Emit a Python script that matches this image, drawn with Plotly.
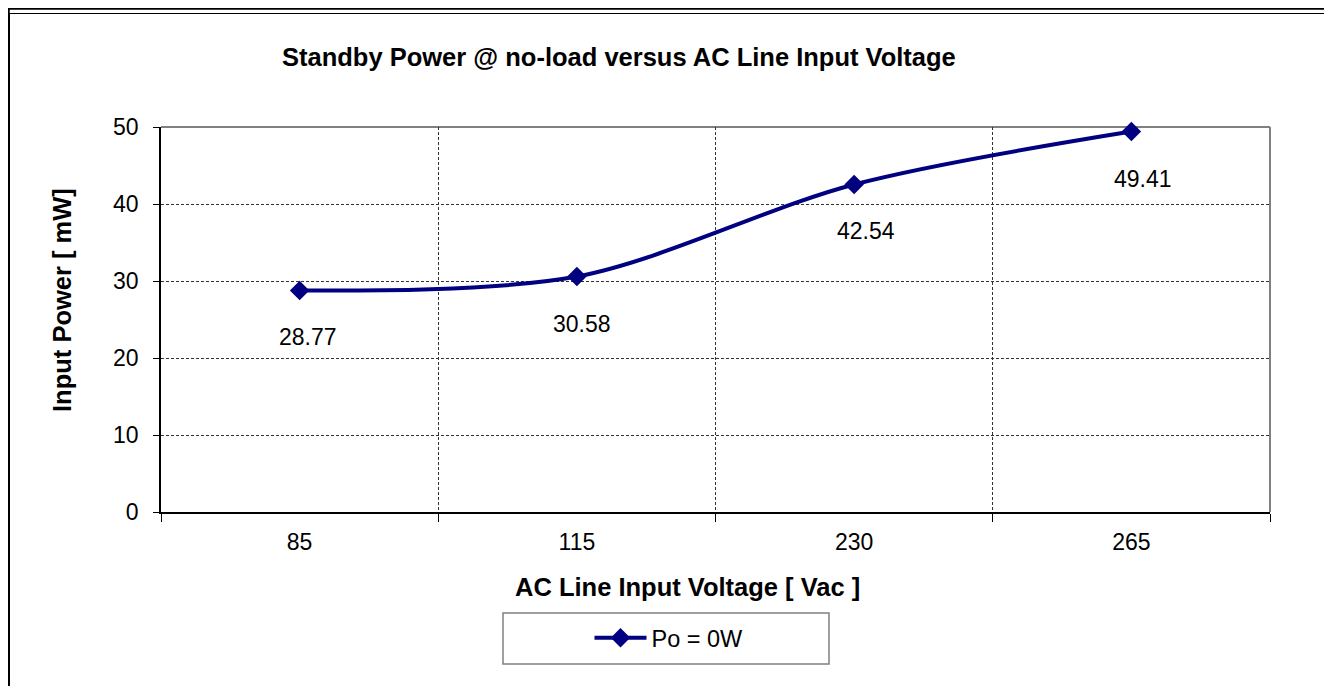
import plotly.graph_objects as go

# ---- data ----
voltages = ["85", "115", "230", "265"]
power_mw = [28.77, 30.58, 42.54, 49.41]
series_name = "Po = 0W"
title_text = "Standby Power @ no-load versus AC Line Input Voltage"
x_title = "AC Line Input Voltage [ Vac ]"
y_title = "Input Power [ mW]"
y_ticks = [0, 10, 20, 30, 40, 50]

# ---- layout geometry (screen pixels; page has an 8px body margin) ----
OFF = 8
W, H = 1332, 686
PL, PR, PT, PB = 161 - OFF, 1270 - OFF, 127 - OFF, 512 - OFF
label_dx = [8, 5, 12, 12]

def px(x):
    return (x - OFF - PL) / (PR - PL)

def py(y):
    return (PB - (y - OFF)) / (PB - PT)

FONT = "Liberation Sans, Arial, sans-serif"
NAVY = "#000080"

fig = go.Figure()
fig.add_trace(go.Scatter(
    x=voltages, y=power_mw, name=series_name, mode="lines+markers",
    line=dict(color=NAVY, width=4, shape="spline", smoothing=0.9),
    marker=dict(symbol="diamond", size=15, color=NAVY),
    cliponaxis=False,
    showlegend=True,
))

for i, (p, dx) in enumerate(zip(power_mw, label_dx)):
    fig.add_annotation(x=i, y=p, xref="x", yref="y", text=f"{p:.2f}",
                       showarrow=False, xshift=dx, yshift=-47,
                       font=dict(family=FONT, size=23, color="#000"))

fig.update_layout(
    width=W, height=H,
    margin=dict(l=PL, r=W - PR, t=PT, b=H - PB, pad=0),
    paper_bgcolor="white", plot_bgcolor="white",
    font=dict(family=FONT, color="#000"),
    showlegend=True,
    legend=dict(x=px(669), y=py(638), xanchor="center", yanchor="middle",
                borderwidth=0, bgcolor="rgba(0,0,0,0)",
                font=dict(family=FONT, size=23.5, color="#000"),
                itemwidth=52),
)

fig.update_xaxes(
    type="category", range=[-0.5, 3.5], tickson="boundaries",
    ticks="outside", ticklen=8, tickcolor="#000", tickwidth=1,
    showline=True, linecolor="#000", linewidth=2,
    showgrid=True, gridcolor="#333", gridwidth=1, griddash="3px,2px",
    tickfont=dict(family=FONT, size=23, color="#000"),
    ticklabelstandoff=8,
    zeroline=False,
)
fig.update_yaxes(
    range=[0, 50], tickvals=y_ticks,
    ticks="outside", ticklen=6, tickcolor="#000", tickwidth=1,
    showline=True, linecolor="#000", linewidth=1.5,
    showgrid=True, gridcolor="#333", gridwidth=1, griddash="3px,2px",
    tickfont=dict(family=FONT, size=23, color="#000"),
    ticklabelstandoff=10,
    zeroline=False,
)

# title and axis titles as annotations
fig.add_annotation(xref="paper", yref="paper", x=px(619), y=py(57),
                   text=f"<b>{title_text}</b>", showarrow=False,
                   xanchor="center", yanchor="middle",
                   font=dict(family=FONT, size=25.5, color="#000"))
fig.add_annotation(xref="paper", yref="paper", x=px(687), y=py(587),
                   text=f"<b>{x_title}</b>", showarrow=False,
                   xanchor="center", yanchor="middle",
                   font=dict(family=FONT, size=25.5, color="#000"))
fig.add_annotation(xref="paper", yref="paper", x=px(62), y=py(300),
                   text=f"<b>{y_title}</b>", showarrow=False, textangle=-90,
                   xanchor="center", yanchor="middle",
                   font=dict(family=FONT, size=25.5, color="#000"))

shapes = [
    # plot area top/right border in gray (between grid and traces)
    dict(type="line", xref="paper", yref="paper", x0=0, x1=1, y0=1, y1=1,
         layer="between", line=dict(color="#808080", width=2)),
    dict(type="line", xref="paper", yref="paper", x0=1, x1=1, y0=0, y1=1,
         layer="between", line=dict(color="#808080", width=2)),
    # legend box
    dict(type="rect", xref="paper", yref="paper", x0=px(503), x1=px(829),
         y0=py(664), y1=py(613), line=dict(color="#808080", width=1.5)),
    # outer double frame
    dict(type="rect", xref="paper", yref="paper", x0=px(8.5), x1=px(1328),
         y0=py(720), y1=py(8.5), line=dict(color="#000", width=2.5)),
    dict(type="rect", xref="paper", yref="paper", x0=px(9.5), x1=px(1325),
         y0=py(720), y1=py(13.5), line=dict(color="#000", width=1)),
]
fig.update_layout(shapes=shapes)

fig.write_html("out.html")
